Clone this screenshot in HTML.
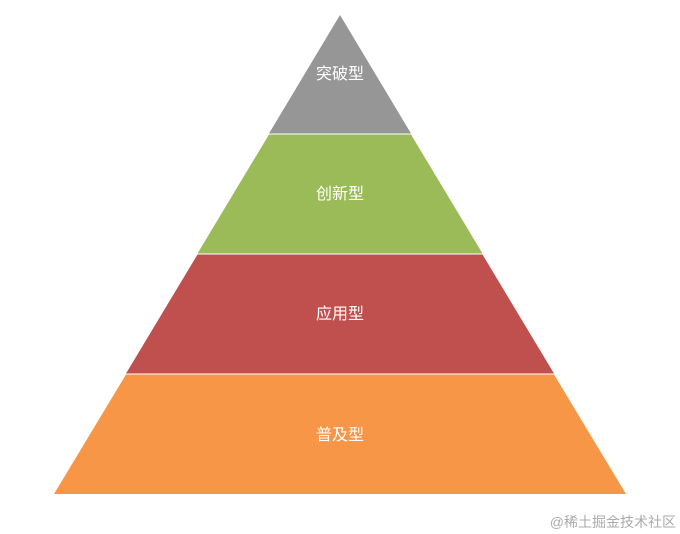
<!DOCTYPE html>
<html><head><meta charset="utf-8"><style>
html,body{margin:0;padding:0;background:#fff;}
</style></head><body>
<svg width="680" height="534" xmlns="http://www.w3.org/2000/svg" style="display:block">
<polygon points="340,15 411,133.5 269,133.5" fill="#969696"/>
<polygon points="269,134.5 411,134.5 482.5,253.5 197.5,253.5" fill="#9BBB59"/>
<polygon points="197.5,254.5 482.5,254.5 554,373.5 126,373.5" fill="#C0504D"/>
<polygon points="126,374.5 554,374.5 626,494 54,494" fill="#F79646"/>
<g font-family="'Liberation Sans','Noto Sans CJK SC',sans-serif" font-size="16" fill="#fff" text-anchor="middle">
<text x="340" y="79">突破型</text>
<text x="340" y="199">创新型</text>
<text x="340" y="319">应用型</text>
<text x="340" y="440">普及型</text>
</g>
<text x="676" y="527" text-anchor="end" font-family="'Liberation Sans','Noto Sans CJK SC',sans-serif" font-size="14" fill="#ababab">@稀土掘金技术社区</text>
</svg>
</body></html>
